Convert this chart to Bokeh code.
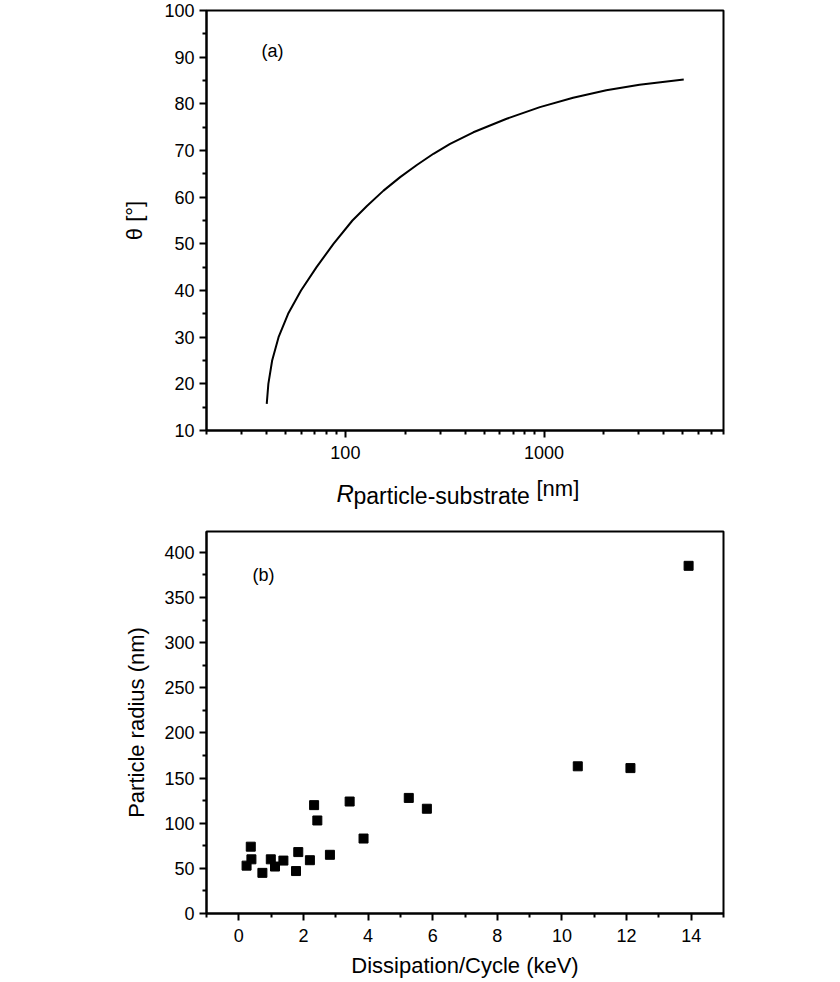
from bokeh.plotting import figure
from bokeh.layouts import column
from bokeh.models import FixedTicker, BasicTickFormatter, Label
from bokeh.embed import file_html
from bokeh.resources import INLINE

# ---- panel (a) data: theta vs R ----
r_nm = [40.2, 40.96, 42.8, 46.1, 51.5, 59.8, 71.6, 87.1, 108.5,
        128.4, 155.6, 188.7, 228.9, 277.5, 336.5, 440.7, 648, 953, 1400, 2057,
        3022, 5047]
theta_deg = [15.7, 20.0, 25.0, 30.0, 35.0, 40.0, 45.0, 50.0, 55.0,
             58.1, 61.4, 64.3, 66.9, 69.3, 71.4, 73.9, 76.8, 79.3, 81.3, 82.9,
             84.1, 85.2]

# ---- panel (b) data: particle radius vs dissipation per cycle ----
dissipation_kev = [0.24, 0.39, 0.37, 0.73, 0.99, 1.12, 1.38, 1.77, 1.84, 2.20,
                   2.33, 2.43, 2.82, 3.43, 3.86, 5.26, 5.82, 10.49, 12.12, 13.92]
radius_nm = [53, 60, 74, 45, 60, 52, 58.6, 47, 68, 59,
             120, 103, 65, 124, 83, 128, 116, 163, 161, 385]

# ticks
a_x_major = [100, 1000]
a_x_minor = [20, 30, 40, 50, 60, 70, 80, 90, 200, 300, 400, 500, 600, 700, 800, 900,
             2000, 3000, 4000, 5000, 6000, 7000, 8000]
a_y_major = list(range(10, 101, 10))
a_y_minor = list(range(15, 100, 10))
b_x_major = list(range(0, 15, 2))
b_x_minor = list(range(-1, 16, 2))
b_y_major = list(range(0, 401, 50))
b_y_minor = list(range(25, 400, 50))

FONT = "Liberation Sans"


def style(p):
    p.background_fill_color = "white"
    p.border_fill_color = "white"
    p.outline_line_color = "black"
    p.outline_line_width = 2
    p.outline_line_alpha = 1
    p.grid.visible = False
    for ax in (p.xaxis[0], p.yaxis[0]):
        ax.axis_line_width = 2
        ax.axis_line_color = "black"
        ax.major_tick_line_width = 2
        ax.minor_tick_line_width = 2
        ax.major_tick_in = 0
        ax.major_tick_out = 7
        ax.minor_tick_in = 0
        ax.minor_tick_out = 4
        ax.major_label_text_font = FONT
        ax.major_label_text_font_size = "18px"
        ax.major_label_text_color = "black"
        ax.axis_label_text_font = FONT
        ax.axis_label_text_font_size = "22px"
        ax.axis_label_text_font_style = "normal"
        ax.axis_label_text_color = "black"
    p.xaxis.major_label_standoff = 8
    p.yaxis.major_label_standoff = 5


# ---- top figure ----
p1 = figure(width=840, height=470, x_axis_type="log", x_range=(20, 8000),
            y_range=(10, 100), output_backend="svg", toolbar_location=None,
            min_border_left=206, min_border_right=116, min_border_top=10,
            min_border_bottom=40)
style(p1)
p1.xaxis.ticker = FixedTicker(ticks=a_x_major, minor_ticks=a_x_minor)
p1.xaxis.formatter = BasicTickFormatter()
p1.yaxis.ticker = FixedTicker(ticks=a_y_major, minor_ticks=a_y_minor)
p1.yaxis.axis_label = "θ [°]"
p1.yaxis.axis_label_standoff = 14
p1.line(r_nm, theta_deg, line_color="black", line_width=2)

p1.add_layout(Label(x=66, y=380, x_units="screen", y_units="screen", text="(a)",
                    text_font=FONT, text_font_size="18px", text_align="center",
                    text_baseline="middle", text_color="black"))

# ---- x-axis title strip for panel (a) (frame aligned with the plots above/below) ----
pt = figure(width=840, height=40, x_range=(0, 1), y_range=(0, 1),
            output_backend="svg", toolbar_location=None,
            x_axis_location=None, y_axis_location=None,
            min_border_left=206, min_border_right=116,
            min_border_top=0, min_border_bottom=0)
pt.outline_line_color = None
pt.background_fill_color = "white"
pt.border_fill_color = "white"
pt.grid.visible = False
pt.add_layout(Label(x=130, y=17, x_units="screen", y_units="screen", text="R",
                    text_font=FONT, text_font_size="24px", text_font_style="italic",
                    text_baseline="alphabetic", text_color="black"))
pt.add_layout(Label(x=147, y=15, x_units="screen", y_units="screen",
                    text="particle-substrate", text_font=FONT, text_font_size="23px",
                    text_baseline="alphabetic", text_color="black"))
pt.add_layout(Label(x=330, y=22, x_units="screen", y_units="screen", text="[nm]",
                    text_font=FONT, text_font_size="22px", text_baseline="alphabetic",
                    text_color="black"))

# ---- bottom figure ----
p2 = figure(width=840, height=472, x_range=(-1, 15), y_range=(0, 423),
            output_backend="svg", toolbar_location=None,
            min_border_left=205, min_border_right=117, min_border_top=21,
            min_border_bottom=69)
style(p2)
p2.xaxis.ticker = FixedTicker(ticks=b_x_major, minor_ticks=b_x_minor)
p2.yaxis.ticker = FixedTicker(ticks=b_y_major, minor_ticks=b_y_minor)
p2.xaxis.axis_label = "Dissipation/Cycle (keV)"
p2.yaxis.axis_label = "Particle radius (nm)"
p2.xaxis.axis_label_standoff = 8
p2.yaxis.axis_label_standoff = 12
p2.scatter(dissipation_kev, radius_nm, marker="square", size=9,
           fill_color="black", line_color="black")
p2.add_layout(Label(x=57, y=339, x_units="screen", y_units="screen", text="(b)",
                    text_font=FONT, text_font_size="18px", text_align="center",
                    text_baseline="middle", text_color="black"))

layout = column(p1, pt, p2, spacing=0)
open("out.html", "w").write(file_html(layout, INLINE))
